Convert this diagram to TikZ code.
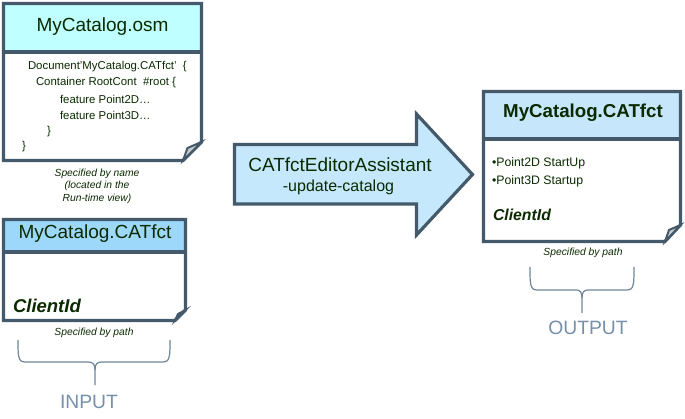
\documentclass[tikz,border=0pt]{standalone}
\usepackage{fontspec}
\setmainfont{Liberation Sans}
\definecolor{frameC}{HTML}{445A6B}
\definecolor{osmHead}{HTML}{C0FFFF}
\definecolor{inHead}{HTML}{9DD7F9}
\definecolor{outHead}{HTML}{C6E6FB}
\definecolor{arrowC}{HTML}{C5E8FC}
\definecolor{flapC}{HTML}{C8CCCE}
\definecolor{braceC}{HTML}{6E869C}
\definecolor{ioC}{HTML}{7690AA}
\definecolor{txtC}{HTML}{0B2A00}
\tikzset{
  frame/.style={draw=frameC, line width=3.2pt, line join=miter},
  flap/.style={draw=frameC, fill=flapC, line width=2pt, line join=miter},
  bracepath/.style={draw=braceC, line width=1.2pt},
  txt/.style={text=txtC, inner sep=0pt, outer sep=0pt},
  title/.style={txt, font=\fontsize{19}{22}\selectfont},
  body/.style={txt, font=\fontsize{11.4}{13}\selectfont, anchor=west},
  note/.style={txt, font=\fontsize{10.3}{12.5}\selectfont\itshape},
  iolabel/.style={text=ioC, inner sep=0pt, font=\fontsize{19.3}{22}\selectfont},
}
\begin{document}
\begin{tikzpicture}[x=1pt,y=-1pt]
\useasboundingbox[fill=white] (0,0) rectangle (685,419);

% ---------- document 1 : MyCatalog.osm ----------
\fill[white] (3.5,3.5) -- (201.5,3.5) -- (201.5,142) -- (183,160.5) -- (3.5,160.5) -- cycle;
\fill[osmHead] (3.5,3.5) rectangle (201.5,52);
\draw[frame] (3.5,3.5) -- (201.5,3.5) -- (201.5,142) -- (183,160.5) -- (3.5,160.5) -- cycle;
\draw[frame] (3.5,52) -- (201.5,52);
\draw[flap] (183,160.5) -- (187.5,148) -- (201.5,142) -- cycle;
\node[title] (osmtitle) at (102.5,27) {MyCatalog.osm};
\node[body] (l1) at (28,67) {Document'MyCatalog.CATfct'\ \ \{};
\node[body] (l2) at (36,83) {Container RootCont\ \ \#root \{};
\node[body] (l3) at (60,99) {feature Point2D…};
\node[body] (l4) at (60,115) {feature Point3D…};
\node[body] (l5) at (47,132) {\}};
\node[body] (l6) at (22,147) {\}};
\node[note, align=center] (osmnote) at (97,186) {Specified by name\\(located in the\\Run-time view)};

% ---------- document 2 : input CATfct ----------
\fill[white] (3.5,219.5) -- (185.5,219.5) -- (185.5,310) -- (175,320.5) -- (3.5,320.5) -- cycle;
\fill[inHead] (3.5,219.5) rectangle (185.5,252);
\draw[frame] (3.5,219.5) -- (185.5,219.5) -- (185.5,310) -- (175,320.5) -- (3.5,320.5) -- cycle;
\draw[frame] (3.5,252) -- (185.5,252);
\draw[flap] (175,320.5) -- (178,314) -- (185.5,310) -- cycle;
\node[title] (intitle) at (95,234) {MyCatalog.CATfct};
\node[txt, anchor=west, font=\fontsize{18.5}{21}\selectfont\bfseries\itshape] (inclient) at (13,306) {ClientId};
\node[note] (innote) at (94,333) {Specified by path};
\draw[bracepath] (18,340) .. controls (18,356) and (18,362) .. (25,362) -- (88,362)
  .. controls (93,362) and (95,364) .. (95,370) -- (95,385);
\draw[bracepath] (95,370) .. controls (95,364) and (97,362) .. (102,362) -- (163,362)
  .. controls (170,362) and (170,356) .. (170,340);
\node[iolabel] (input) at (89,402) {INPUT};

% ---------- big arrow ----------
\draw[frame, fill=arrowC] (234.5,144.5) -- (416.5,144.5) -- (416.5,114) -- (472.5,174.5)
  -- (416.5,235) -- (416.5,204) -- (234.5,204) -- cycle;
\node[txt, font=\fontsize{19}{22}\selectfont] (tool) at (340,165) {CATfctEditorAssistant};
\node[txt, font=\fontsize{16}{19}\selectfont] (toolopt) at (338.5,187) {-update-catalog};

% ---------- document 3 : output CATfct ----------
\fill[white] (483.5,91.5) -- (680.5,91.5) -- (680.5,225) -- (665,241.5) -- (483.5,241.5) -- cycle;
\fill[outHead] (483.5,91.5) rectangle (680.5,139);
\draw[frame] (483.5,91.5) -- (680.5,91.5) -- (680.5,225) -- (665,241.5) -- (483.5,241.5) -- cycle;
\draw[frame] (483.5,139) -- (680.5,139);
\draw[flap] (665,241.5) -- (669,230) -- (680.5,225) -- cycle;
\node[title, font=\fontsize{18.7}{22}\selectfont\bfseries] (outtitle) at (583,113) {MyCatalog.CATfct};
\node[txt, anchor=west, font=\fontsize{12.3}{14}\selectfont] (b1) at (492,163) {•Point2D StartUp};
\node[txt, anchor=west, font=\fontsize{12.3}{14}\selectfont] (b2) at (492,181) {•Point3D Startup};
\node[txt, anchor=west, font=\fontsize{15.8}{18}\selectfont\bfseries\itshape] (outclient) at (493,215) {ClientId};
\node[note] (outnote) at (583,253) {Specified by path};
\draw[bracepath] (530,267) .. controls (530,284) and (530,290) .. (537,290) -- (576,290)
  .. controls (580,290) and (582,292) .. (582,298) -- (582,313);
\draw[bracepath] (582,298) .. controls (582,292) and (584,290) .. (588,290) -- (627,290)
  .. controls (634,290) and (634,284) .. (634,267);
\node[iolabel] (output) at (588,328) {OUTPUT};
\end{tikzpicture}
\end{document}
